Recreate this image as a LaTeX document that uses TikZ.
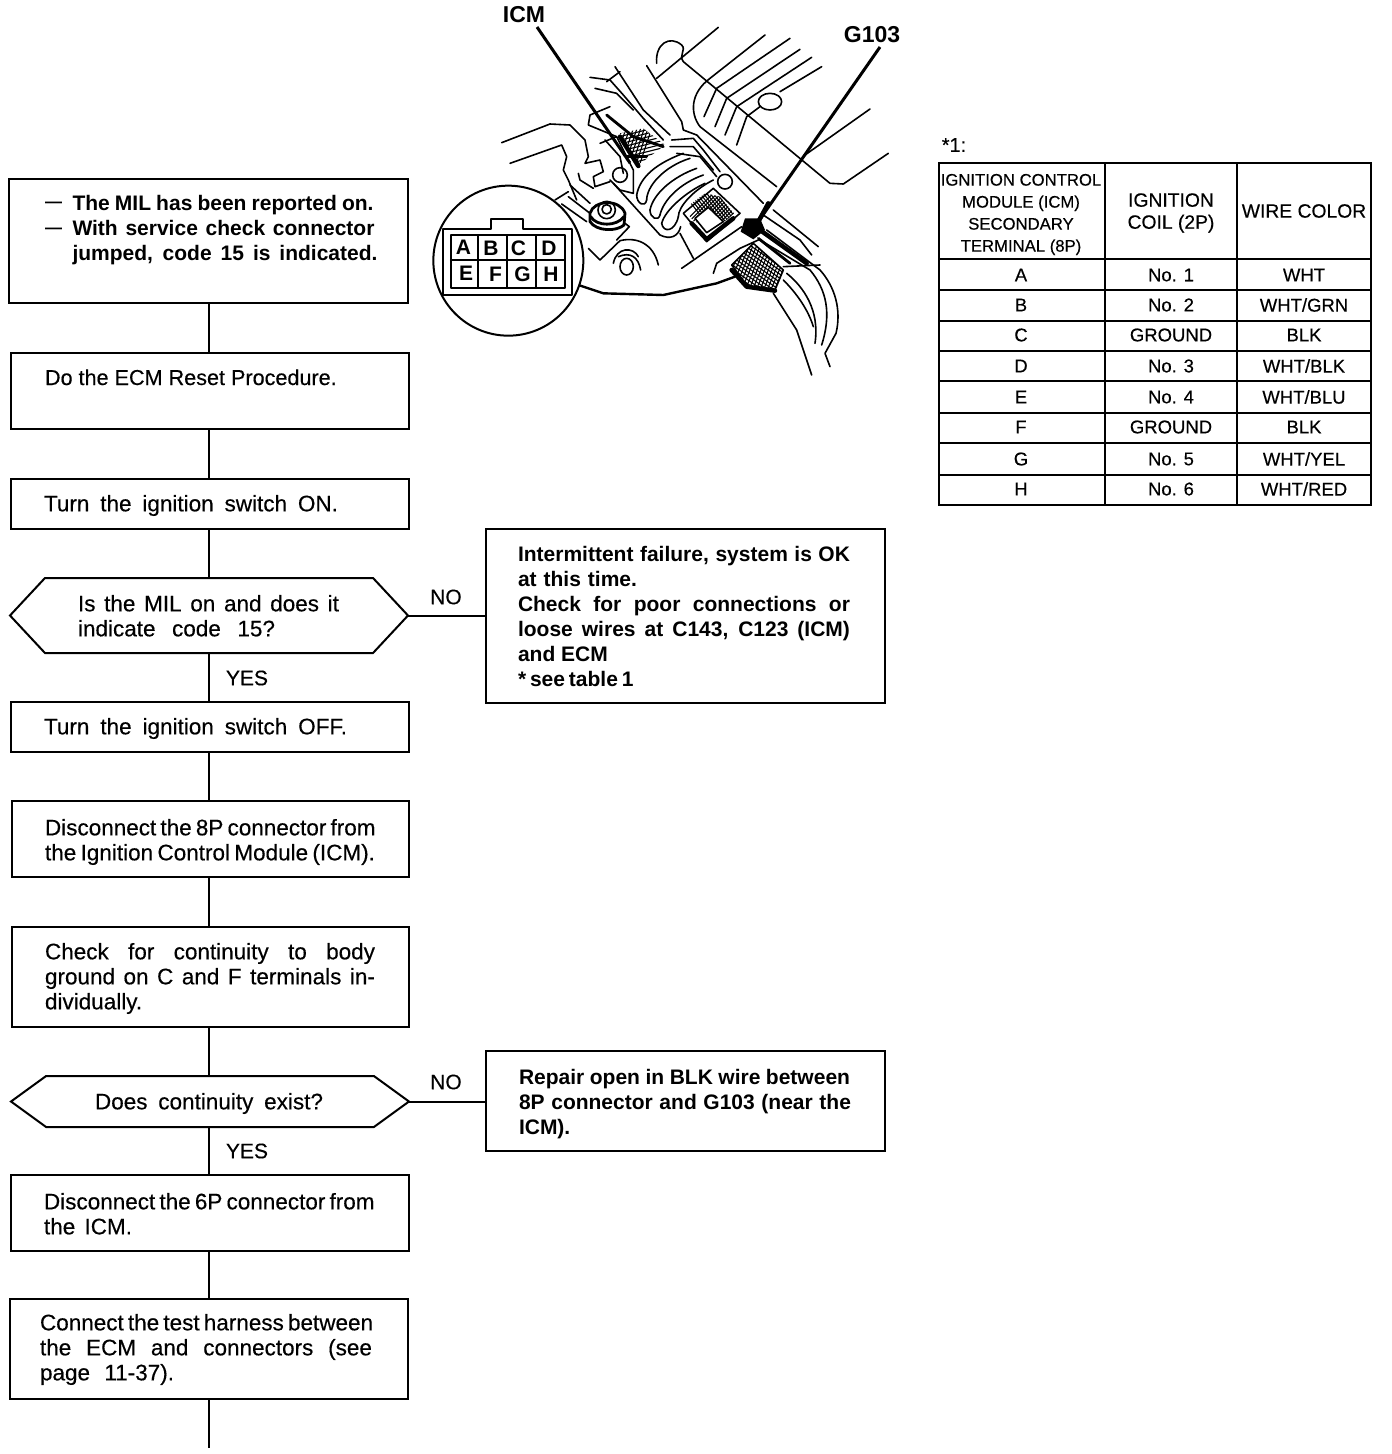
\documentclass[tikz,border=0pt]{standalone}
\usepackage{fontspec}
\setmainfont{Liberation Sans}
\newfontfamily\medf{Liberation Sans}[FakeBold=0.35]
\usetikzlibrary{shapes.symbols}
\newcommand{\fl}[2]{\hbox to #1pt{#2}}
\tikzset{
  x=1pt,y=-1pt,
  every node/.style={inner sep=0pt,outer sep=0pt},
  boxn/.style={draw=black,line width=2pt,fill=white,rectangle},
  hexn/.style={draw=black,line width=2pt,fill=white,signal,signal to=east and west},
  txt/.style={font=\medf\fontsize{22.5}{25}\selectfont,anchor=north west,align=left,execute at begin node={\rule{0pt}{16pt}}},
  btxt/.style={txt,font=\fontsize{21}{25}\bfseries\selectfont},
  lab/.style={font=\medf\fontsize{21}{25}\selectfont},
  dashn/.style={font=\fontsize{17}{20}\bfseries\selectfont},
  conn/.style={draw=black,line width=2pt},
  cell/.style={font=\medf\fontsize{18.5}{22}\selectfont,align=center},
  hcell/.style={font=\medf\fontsize{16.7}{22}\selectfont,align=center},
  art/.style={line width=1.6pt,line join=round,line cap=round},
  artth/.style={line width=2.8pt,line join=round,line cap=round},
  artbk/.style={line width=4.5pt,line join=round,line cap=round},
  hatchl/.style={line width=1.1pt},
  pin/.style={font=\fontsize{21}{25}\bfseries\selectfont},
  title/.style={font=\fontsize{23}{25}\bfseries\selectfont},
}
\begin{document}
\begin{tikzpicture}
\useasboundingbox (0,0) rectangle (1392,1454);
\coordinate (spine) at (209,0);
% boxes
\node[boxn,minimum width=399,minimum height=124] (b1) at (208.5,241) {};
\node[boxn,minimum width=398,minimum height=76] (b2) at (210,391) {};
\node[boxn,minimum width=398,minimum height=50] (b3) at (210,504) {};
\node[hexn,minimum width=398,minimum height=75,signal pointer angle=94] (d1) at (209,615.5) {};
\node[boxn,minimum width=399,minimum height=174] (n1) at (685.5,616) {};
\node[boxn,minimum width=398,minimum height=50] (b4) at (210,727) {};
\node[boxn,minimum width=397,minimum height=76] (b5) at (210.5,839) {};
\node[boxn,minimum width=397,minimum height=100] (b6) at (210.5,977) {};
\node[hexn,minimum width=398,minimum height=51,signal pointer angle=72] (d2) at (210,1101.5) {};
\node[boxn,minimum width=399,minimum height=100] (n2) at (685.5,1101) {};
\node[boxn,minimum width=398,minimum height=76] (b7) at (210,1213) {};
\node[boxn,minimum width=398,minimum height=100] (b8) at (209,1349) {};
\coordinate (endc) at (209,1448);
% connectors
\draw[conn] (b1.south -| spine) -- (b2.north -| spine);
\draw[conn] (b2.south -| spine) -- (b3.north -| spine);
\draw[conn] (b3.south -| spine) -- (d1.north -| spine);
\draw[conn] (d1.south -| spine) -- (b4.north -| spine);
\draw[conn] (b4.south -| spine) -- (b5.north -| spine);
\draw[conn] (b5.south -| spine) -- (b6.north -| spine);
\draw[conn] (b6.south -| spine) -- (d2.north -| spine);
\draw[conn] (d2.south -| spine) -- (b7.north -| spine);
\draw[conn] (b7.south -| spine) -- (b8.north -| spine);
\draw[conn] (b8.south -| spine) -- (endc);
\draw[conn] (d1.east) -- (n1.west |- d1.east);
\draw[conn] (d2.east) -- (n2.west |- d2.east);
% box texts
\node[dashn] (t1a) at (53.5,205) {—};
\node[dashn] (t1b) at (53.5,231) {—};
\node[btxt] (t1) at (72.5,195) {\fl{301}{The MIL has been reported on.}\\\fl{302}{With service check connector}\\\fl{305}{jumped, code 15 is indicated.}};
\node[txt,font=\medf\fontsize{21.6}{25}\selectfont] (t2) at (45,369) {Do the ECM Reset Procedure.};
\node[txt] (t3) at (44,495) {\fl{294}{Turn the ignition switch ON.}};
\node[txt] (t4) at (78,595) {\fl{261}{Is the MIL on and does it}\\\fl{197}{indicate code 15?}};
\node[btxt] (t5) at (518,546) {\fl{332}{Intermittent failure, system is OK}\\\fl{119}{at this time.}\\\fl{332}{Check for poor connections or}\\\fl{332}{loose wires at C143, C123 (ICM)}\\and ECM\\\fl{115}{* see table 1}};
\node[txt] (t6) at (44,718) {\fl{303}{Turn the ignition switch OFF.}};
\node[txt] (t7) at (45,819) {\fl{330}{Disconnect the 8P connector from}\\\fl{330}{the Ignition Control Module (ICM).}};
\node[txt] (t8) at (45,943) {\fl{330}{Check for continuity to body}\\\fl{330}{ground on C and F terminals in-}\\\fl{102}{dividually.}};
\node[txt] (t9) at (95,1093) {\fl{228}{Does continuity exist?}};
\node[btxt] (t10) at (519,1069) {\fl{331}{Repair open in BLK wire between}\\\fl{332}{8P connector and G103 (near the}\\ICM).};
\node[txt] (t11) at (44,1193) {\fl{330}{Disconnect the 6P connector from}\\\fl{88}{the ICM.}};
\node[txt] (t12) at (40,1314) {\fl{332}{Connect the test harness between}\\\fl{332}{the ECM and connectors (see}\\\fl{134}{page 11-37).}};
\node[lab] (no1) at (446,597) {NO};
\node[lab] (yes1) at (247,678) {YES};
\node[lab] (no2) at (446,1082) {NO};
\node[lab] (yes2) at (247,1151) {YES};
% table
\node[font=\medf\fontsize{20}{22}\selectfont] (star) at (954,145) {*1:};
\draw[line width=2.5pt] (939,163) rectangle (1371,505);
\foreach \yy in {259,290,321,351,381,413,443,475} \draw[line width=2pt] (939,\yy) -- (1371,\yy);
\foreach \xx in {1105,1237} \draw[line width=2pt] (\xx,163) -- (\xx,505);
\node[hcell] (h1) at (1021,214.5) {IGNITION CONTROL\\MODULE (ICM)\\SECONDARY\\TERMINAL (8P)};
\node[cell,font=\medf\fontsize{19.3}{22}\selectfont] (h2) at (1171,213) {IGNITION\\COIL (2P)};
\node[cell,font=\medf\fontsize{19.3}{22}\selectfont] (h3) at (1304,211) {WIRE COLOR};
\foreach \r/\yy/\p/\q/\w in {1/275/A/No. 1/WHT,2/305/B/No. 2/WHT\slash GRN,3/335/C/GROUND/BLK,4/366/D/No. 3/WHT\slash BLK,5/397/E/No. 4/WHT\slash BLU,6/427/F/GROUND/BLK,7/459/G/No. 5/WHT\slash YEL,8/489/H/No. 6/WHT\slash RED}{
  \node[cell] (p\r) at (1021,\yy) {\p};
  \node[cell] (q\r) at (1171,\yy) {\q};
  \node[cell] (w\r) at (1304,\yy) {\w};
}
% illustration
\begin{scope}[shift={(430,0)},scale=1/3,art]
% engine top
\draw (865,82) -- (680,235);
\draw (650,197) -- (755,365) -- (760,390) -- (800,405);
\draw (680,190) .. controls (675,130) and (720,105) .. (755,135) .. controls (770,150) and (745,165) .. (760,185) -- (1200,550) -- (1240,552) -- (1375,460);
\draw (1005,105) -- (840,235) .. controls (780,280) and (780,340) .. (810,380) -- (1040,560);
\draw (1080,115) -- (860,265) -- (822,350);
\draw (1110,148) -- (890,295) -- (855,380);
\draw (1145,172) -- (920,320) -- (885,405);
\draw (1175,200) -- (1050,275);
\draw (1020,305) ellipse (35 and 25);
\draw (990,320) -- (950,350) -- (920,435);
\draw (1320,327) -- (1125,465);
\draw (800,405) -- (1000,610);
\draw (1030,630) -- (1165,740);
\draw (1000,645) -- (1110,720) -- (1145,765);
% left bracket
\draw (555,200) -- (640,330) -- (720,405);
\draw (480,232) -- (540,240) -- (580,285) -- (640,355) -- (700,420);
\draw (495,265) -- (560,280) -- (610,330);
\draw (570,215) -- (530,245);
\draw (540,320) -- (480,345) -- (475,375) -- (560,410);
\draw (215,428) -- (360,372) -- (420,375) -- (465,420) -- (475,470) -- (465,490) -- (510,480) -- (520,515) -- (490,530) -- (495,560) -- (540,545);
\draw (240,490) -- (395,435) -- (410,470) -- (400,510) -- (415,540) -- (440,600);
\draw (445,520) -- (450,540) -- (490,565);
\draw (510,430) -- (560,410) -- (610,510) -- (610,580) -- (570,570) -- (540,540);
\draw (525,420) -- (570,470) -- (580,520);
\draw (570,525) circle (22);
% ICM dark block
\begin{scope}
\clip (570,400) -- (640,385) -- (705,435) -- (625,495) -- cycle;
\foreach \d in {0,11,...,120} \draw[hatchl] (560+\d,370) -- (560+\d-50,520);
\foreach \d in {0,11,...,120} \draw[hatchl] (560,390+\d) -- (720,390+\d-40);
\end{scope}
\draw[artth] (530,345) -- (610,410) -- (700,440);
\draw[artbk] (570,410) -- (625,498);
\draw[artth] (590,470) -- (650,470);
% coil
\draw (620,585) .. controls (630,530) and (680,490) .. (760,460);
\draw (650,600) .. controls (650,560) and (700,500) .. (780,475);
\draw (660,630) .. controls (670,580) and (730,530) .. (800,505);
\draw (690,645) .. controls (700,600) and (750,550) .. (820,525);
\draw (695,670) .. controls (705,630) and (770,575) .. (825,550);
\draw (745,650) .. controls (745,620) and (790,570) .. (850,540);
\draw (620,585) .. controls (620,610) and (645,625) .. (650,600);
\draw (660,630) .. controls (660,655) and (685,665) .. (690,645);
\draw (695,670) .. controls (700,700) and (735,695) .. (745,650);
\draw (725,420) -- (790,415) -- (820,450) -- (870,515);
\draw (720,440) -- (790,440) -- (850,510);
\draw (740,460) -- (810,470) -- (860,530);
\draw (885,545) circle (22);
% hatched connector
\begin{scope}
\clip (780,650) -- (820,700) -- (890,660) -- (912,640) -- (870,590) -- (825,580) -- (765,625) -- cycle;
\foreach \d in {0,10,...,140} \draw[hatchl] (770+\d,660+\d*.2) -- (860+\d,570+\d*.2);
\foreach \d in {0,10,...,150} \draw[hatchl] (760+\d,580) -- (830+\d,670);
\end{scope}
\draw[fill=white] (795,655) -- (835,622) -- (880,665) -- (830,698) -- cycle;
\draw (760,640) -- (850,565) -- (930,640) -- (830,725) -- (760,640);
\draw[artbk] (785,670) -- (830,718) -- (910,655);
% bolt and lower casting
\draw (375,600) -- (415,575);
\draw (395,612) -- (470,665);
\draw (415,590) -- (480,640);
\draw (420,555) -- (480,610);
\draw[artth,fill=white] (480,640) .. controls (490,600) and (570,595) .. (585,640) -- (582,675) .. controls (560,695) and (500,695) .. (480,665) -- (480,640);
\draw[artth] (482,650) .. controls (500,680) and (560,680) .. (582,650);
\draw (530,630) circle (26);
\draw (530,628) circle (14);
\draw (585,670) -- (598,680) -- (560,720);
\draw (475,745) -- (510,780) -- (570,722) .. controls (620,710) and (670,730) .. (685,795);
\draw (590,800) ellipse (20 and 25);
\draw (565,770) .. controls (600,755) and (625,770) .. (632,810);
\draw (550,790) .. controls (560,740) and (610,740) .. (625,770);
\draw (550,550) -- (690,705) .. controls (720,720) and (745,710) .. (752,680);
\draw (750,700) -- (790,775);
\draw (755,805) -- (935,680);
% bottom outline
\draw[line width=2.4pt] (445,855) -- (520,880) -- (700,885) -- (860,850) -- (915,830);
% right connector cluster
\draw (850,820) -- (860,790) -- (930,745) -- (985,720);
\begin{scope}
\clip (905,795) -- (970,730) -- (1060,810) -- (1035,870) -- (955,862) -- cycle;
\foreach \d in {0,11,...,220} \draw[hatchl] (880+\d,740) -- (820+\d,880);
\foreach \d in {0,12,...,180} \draw[hatchl] (880,680+\d) -- (1080,820+\d);
\end{scope}
\draw (905,795) -- (970,730) -- (1060,810) -- (1035,870) -- (955,862) -- cycle;
\draw[artbk] (905,810) -- (950,860) -- (1035,872);
\draw[artbk] (990,690) -- (1130,790);
\draw[artth] (985,715) -- (1080,790);
\draw (1060,800) -- (1170,795);
\draw (1010,690) -- (1170,810) .. controls (1215,860) and (1235,930) .. (1218,1000) -- (1185,1060) -- (1200,1100);
\draw (990,720) -- (1140,810) .. controls (1190,870) and (1205,940) .. (1175,1035);
\draw (1070,820) .. controls (1120,860) and (1170,930) .. (1155,1030);
\draw (1060,840) .. controls (1100,880) and (1135,930) .. (1150,980);
\draw (1030,880) -- (1100,990) -- (1120,1050) -- (1145,1125);
\fill (945,655) -- (990,655) -- (1005,690) -- (970,718) -- (932,695) -- cycle;
\draw[line width=4.5pt] (1015,610) -- (985,665);
% inset circle
\draw[fill=white,line width=2pt] (235,782) circle (225);
\draw[line width=2pt] (38,885) -- (38,688) -- (182,688) -- (182,658) -- (278,658) -- (278,688) -- (425,688) -- (425,885) -- cycle;
\draw[line width=1.7pt] (62,705) rectangle (405,865);
\draw[line width=1.7pt] (62,780) -- (405,780) (145,705) -- (145,865) (232,705) -- (232,865) (318,705) -- (318,865);
\end{scope}
\node[pin] (pa) at (463.5,247) {A};
\node[pin] (pb) at (491,248) {B};
\node[pin] (pc) at (518.5,248) {C};
\node[pin] (pd) at (549,248) {D};
\node[pin] (pe) at (466,273) {E};
\node[pin] (pf) at (495.5,274) {F};
\node[pin] (pg) at (522.5,274) {G};
\node[pin] (ph) at (551,274) {H};
\node[title] (icm) at (524,15) {ICM};
\node[title] (g103) at (872,35) {G103};
\coordinate (icmend) at (630,163);
\coordinate (g103end) at (758,222);
\draw[line width=3pt] (537,27) -- (icmend);
\draw[line width=3pt] (880,47) -- (g103end);
\end{tikzpicture}
\end{document}
